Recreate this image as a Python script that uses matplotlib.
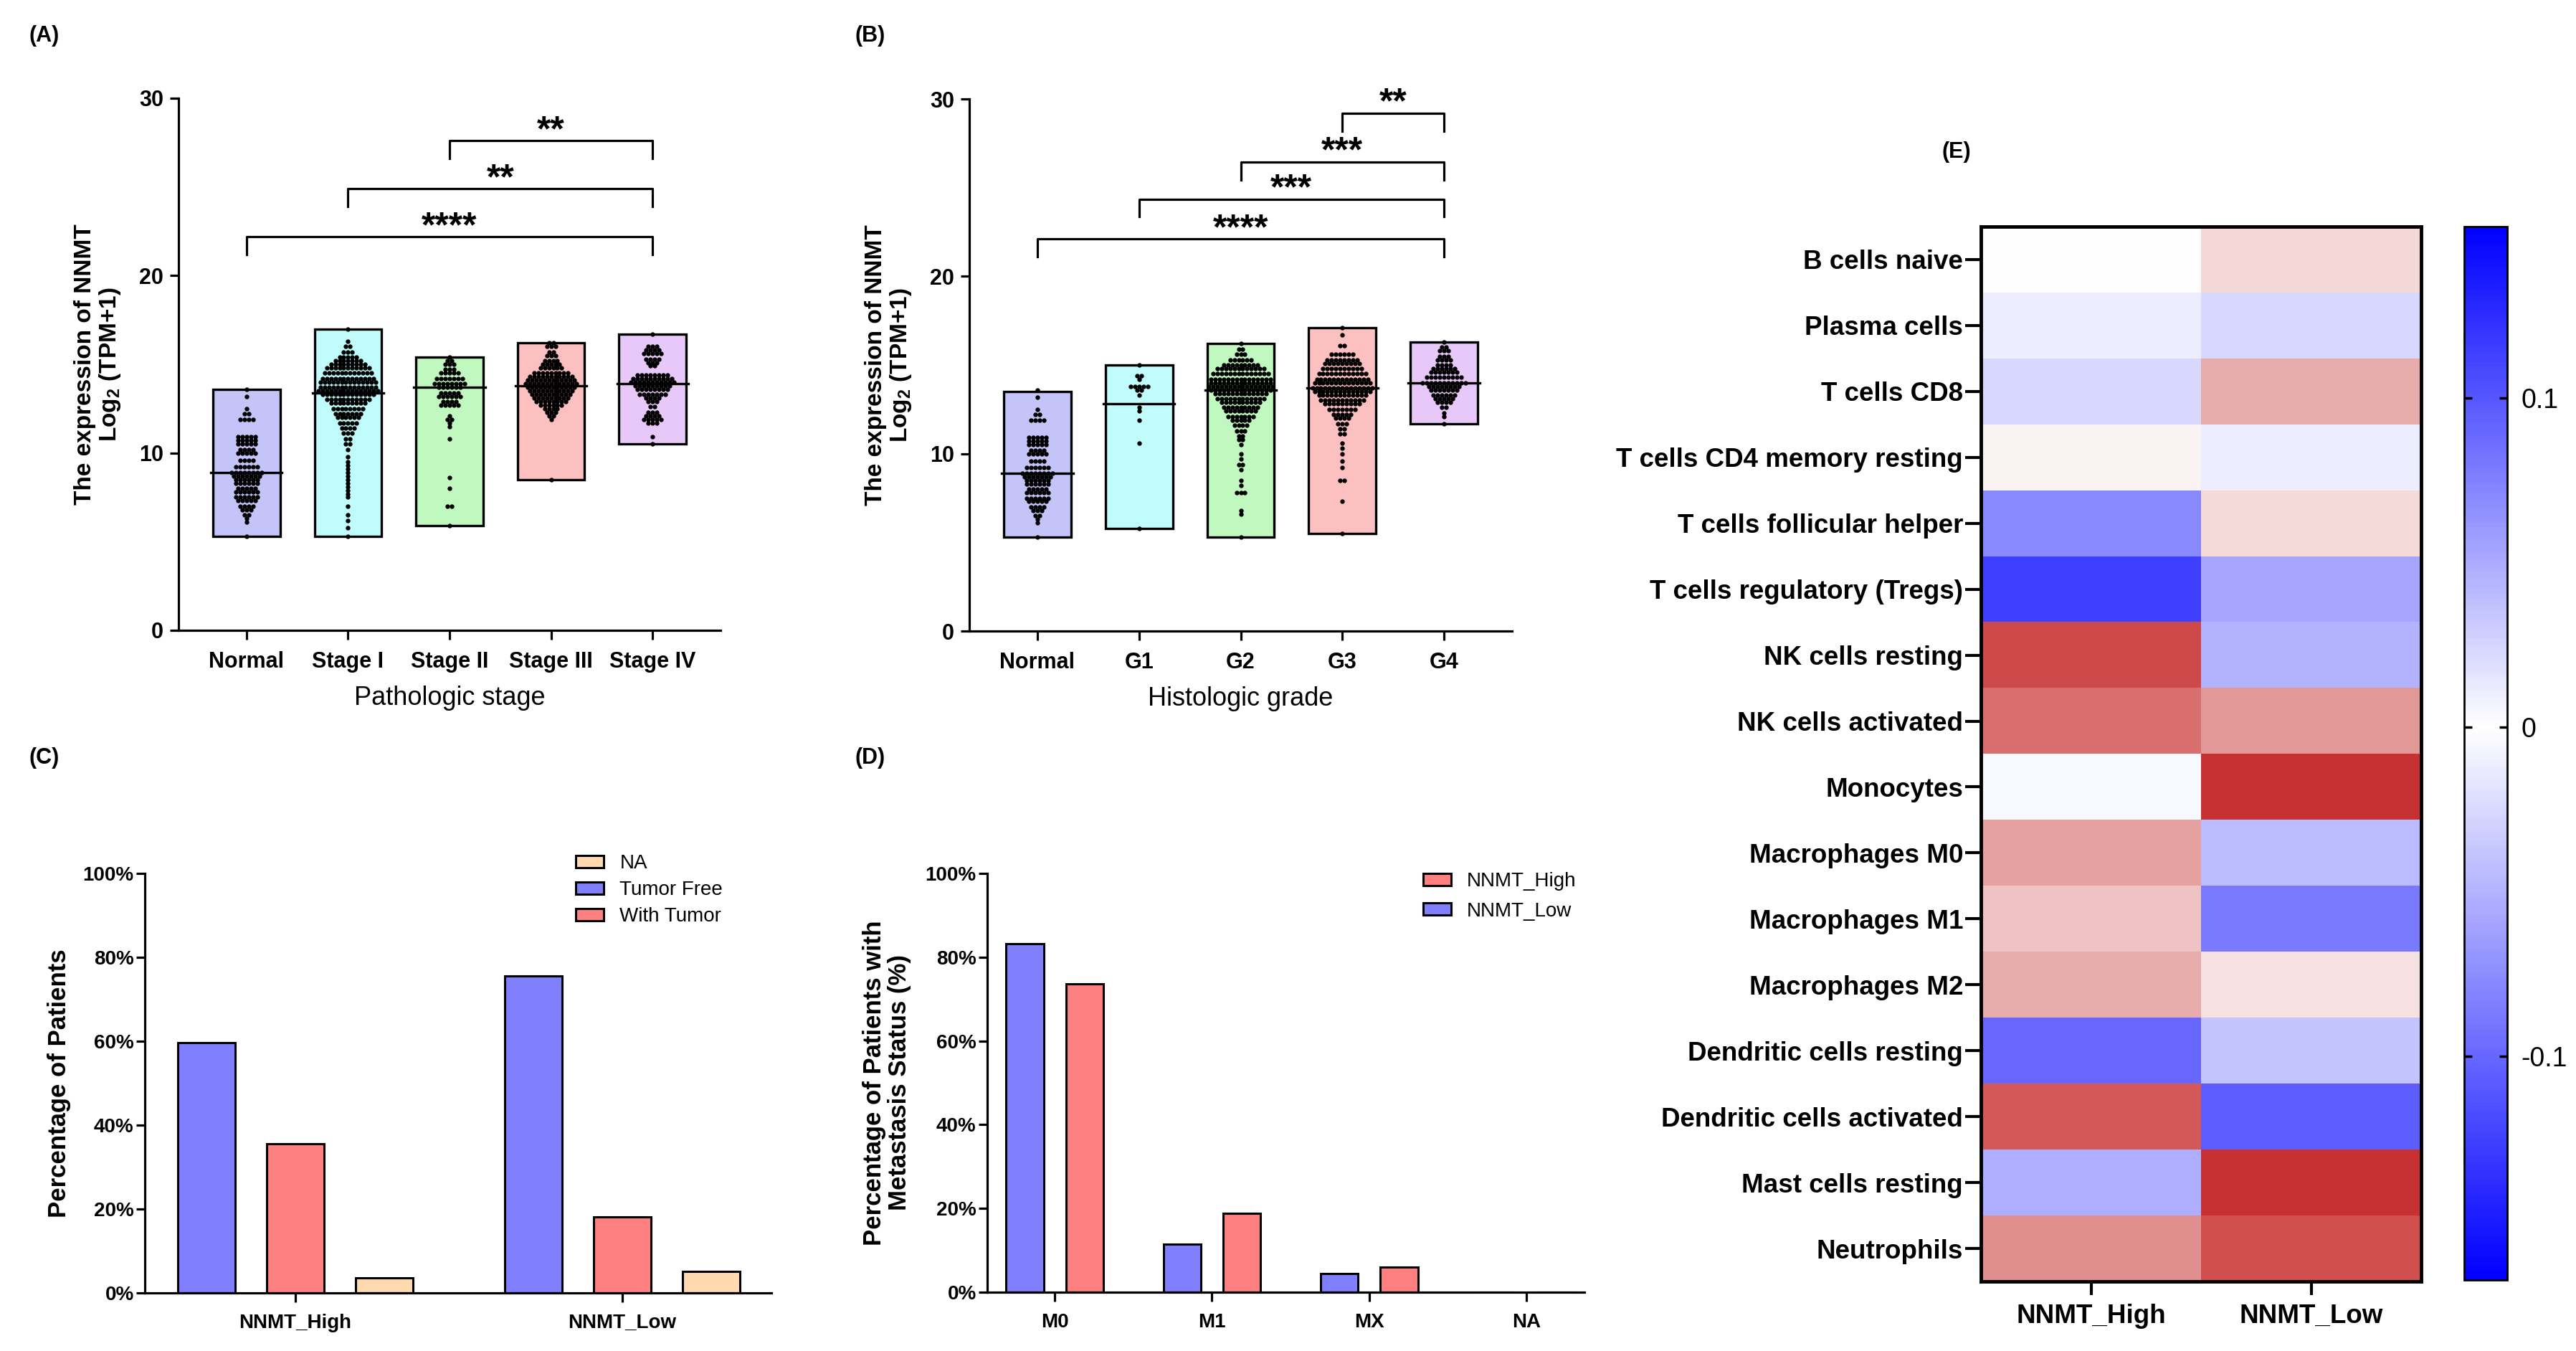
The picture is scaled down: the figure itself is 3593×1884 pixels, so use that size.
import matplotlib
matplotlib.use('Agg')
import matplotlib.pyplot as plt
from matplotlib.colors import LinearSegmentedColormap, Normalize
from matplotlib.patches import Patch
import matplotlib.cm as cm
import numpy as np

plt.rcParams['font.family'] = ['Liberation Sans', 'DejaVu Sans']
plt.rcParams['mathtext.fontset'] = 'custom'
plt.rcParams['mathtext.rm'] = 'Liberation Sans:bold'
plt.rcParams['mathtext.bf'] = 'Liberation Sans:bold'

# ---- panel A: pathologic stage ----
stage_labels = ['Normal', 'Stage I', 'Stage II', 'Stage III', 'Stage IV']
stage_min = [5.3, 5.3, 5.9, 8.5, 10.5]
stage_max = [13.6, 17.0, 15.4, 16.2, 16.7]
stage_median = [8.9, 13.4, 13.7, 13.8, 13.9]
stage_colors = ['#C4C4F8', '#C0FCFC', '#C0F8C0', '#FCC0C0', '#E8C8F8']

normal_levels = [13.6, 13.2, 12.5, 12.2, 11.9, 10.9, 10.7, 10.5, 10.2, 10.0, 9.6, 9.2, 8.9, 8.7,
                 8.5, 8.3, 8.0, 7.8, 7.5, 7.3, 7.0, 6.8, 6.5, 6.3, 6.1, 5.3]
normal_counts = [1, 1, 1, 2, 4, 5, 5, 5, 4, 5, 4, 6, 8, 7, 6, 6, 5, 6, 6, 5, 4, 3, 2, 1, 1, 1]

stage1_levels = [17.0, 16.3, 16.0, 15.7, 15.4, 15.2, 15.0, 14.8, 14.5, 14.2, 14.0, 13.7, 13.5, 13.3,
                 13.0, 12.8, 12.5, 12.2, 12.0, 11.7, 11.4, 11.1, 10.8, 10.5, 10.2, 9.8, 9.5, 9.3,
                 9.1, 8.9, 8.7, 8.5, 8.3, 8.1, 7.9, 7.7, 7.5, 7.0, 6.5, 6.2, 5.8, 5.3]
stage1_counts = [1, 1, 2, 3, 5, 7, 9, 11, 12, 13, 14, 14, 15, 13, 11, 9, 8, 7, 6, 5, 4, 3, 2, 2,
                 1, 1, 1, 1, 1, 1, 1, 1, 1, 1, 1, 1, 1, 1, 1, 1, 1, 1]

stage2_levels = [15.4, 15.2, 15.0, 14.7, 14.5, 14.2, 13.9, 13.7, 13.4, 13.2, 12.9, 12.7, 12.1,
                 11.9, 11.7, 11.5, 10.8, 8.6, 8.0, 7.0, 5.9]
stage2_counts = [1, 2, 3, 3, 5, 7, 8, 6, 5, 6, 4, 5, 1, 2, 1, 1, 1, 1, 1, 2, 1]

stage3_levels = [16.2, 16.0, 15.7, 15.5, 15.2, 15.0, 14.8, 14.5, 14.3, 14.1, 13.9, 13.7, 13.5,
                 13.3, 13.1, 12.9, 12.7, 12.5, 12.3, 12.1, 11.9, 8.5]
stage3_counts = [2, 3, 2, 3, 4, 5, 6, 9, 11, 12, 13, 12, 11, 10, 9, 8, 6, 4, 3, 2, 1, 1]

stage4_levels = [16.7, 16.0, 15.8, 15.6, 15.3, 15.1, 14.9, 14.4, 14.2, 14.0, 13.8, 13.6, 13.3,
                 13.1, 12.9, 12.6, 12.3, 12.1, 11.9, 11.7, 10.9, 10.5]
stage4_counts = [1, 3, 4, 5, 4, 3, 2, 8, 10, 11, 9, 8, 7, 4, 3, 2, 3, 4, 5, 3, 1, 1]

stage_dots = [(normal_levels, normal_counts), (stage1_levels, stage1_counts),
              (stage2_levels, stage2_counts), (stage3_levels, stage3_counts),
              (stage4_levels, stage4_counts)]
# (from, to, bar height, label)
stage_sig = [(0, 4, 22.2, '****'), (1, 4, 24.9, '**'), (2, 4, 27.6, '**')]

# ---- panel B: histologic grade ----
grade_labels = ['Normal', 'G1', 'G2', 'G3', 'G4']
grade_min = [5.3, 5.8, 5.3, 5.5, 11.7]
grade_max = [13.5, 15.0, 16.2, 17.1, 16.3]
grade_median = [8.9, 12.8, 13.6, 13.7, 14.0]
grade_colors = ['#C4C4F8', '#C0FCFC', '#C0F8C0', '#FCC0C0', '#E8C8F8']

g1_levels = [15.0, 14.4, 14.2, 13.8, 13.6, 13.3, 12.6, 12.4, 11.9, 10.6, 5.8]
g1_counts = [1, 2, 1, 5, 2, 1, 1, 1, 1, 1, 1]

g2_levels = [16.2, 15.9, 15.6, 15.3, 15.0, 14.8, 14.5, 14.2, 14.0, 13.8, 13.6, 13.4, 13.1, 12.9,
             12.6, 12.4, 12.1, 11.9, 11.6, 11.3, 11.0, 10.8, 10.5, 10.0, 9.7, 9.4, 9.1, 8.5,
             8.2, 7.8, 6.8, 6.6, 5.3]
g2_counts = [1, 2, 3, 6, 9, 12, 14, 15, 15, 16, 15, 13, 12, 10, 9, 8, 7, 5, 4, 3, 2, 2, 1, 1, 1,
             2, 1, 1, 1, 3, 1, 1, 1]

g3_levels = [17.1, 16.7, 16.1, 15.6, 15.3, 15.1, 14.8, 14.5, 14.2, 14.0, 13.7, 13.5, 13.3, 13.0,
             12.8, 12.5, 12.2, 12.0, 11.7, 11.4, 11.1, 10.6, 10.3, 10.0, 9.6, 9.2, 8.5, 7.3, 5.5]
g3_counts = [1, 1, 2, 6, 8, 9, 10, 12, 13, 14, 15, 14, 12, 11, 9, 7, 5, 4, 3, 2, 2, 1, 1, 1, 1,
             1, 2, 1, 1]

g4_levels = [16.3, 16.0, 15.8, 15.5, 15.3, 15.0, 14.8, 14.6, 14.3, 14.0, 13.8, 13.6, 13.3, 13.1,
             12.9, 12.6, 12.3, 12.1, 11.7]
g4_counts = [1, 2, 3, 3, 4, 4, 6, 7, 9, 11, 8, 7, 6, 5, 4, 2, 1, 1, 1]

grade_dots = [(normal_levels, normal_counts), (g1_levels, g1_counts), (g2_levels, g2_counts),
              (g3_levels, g3_counts), (g4_levels, g4_counts)]
grade_sig = [(0, 4, 22.1, '****'), (1, 4, 24.35, '***'), (2, 4, 26.45, '***'), (3, 4, 29.2, '**')]

# ---- panel C: tumor status ----
status_groups = ['NNMT_High', 'NNMT_Low']
tumor_free = [59.6, 75.5]
with_tumor = [35.6, 18.1]
status_na = [3.6, 5.2]

# ---- panel D: metastasis ----
meta_labels = ['M0', 'M1', 'MX', 'NA']
meta_low = [83.3, 11.4, 4.4, 0.0]
meta_high = [73.7, 18.9, 6.0, 0.0]

# ---- panel E: immune cell heatmap ----
cell_types = ['B cells naive', 'Plasma cells', 'T cells CD8', 'T cells CD4 memory resting',
              'T cells follicular helper', 'T cells regulatory (Tregs)', 'NK cells resting',
              'NK cells activated', 'Monocytes', 'Macrophages M0', 'Macrophages M1',
              'Macrophages M2', 'Dendritic cells resting', 'Dendritic cells activated',
              'Mast cells resting', 'Neutrophils']
heat_cols = ['NNMT_High', 'NNMT_Low']
corr_high = [0.0, 0.01, 0.023, -0.01, 0.07, 0.114, -0.141, -0.112, 0.004, -0.074, -0.046,
             -0.065, 0.09, -0.129, 0.048, -0.087]
corr_low = [-0.03, 0.023, -0.065, 0.01, -0.029, 0.053, 0.045, -0.08, -0.16, 0.04, 0.079,
            -0.024, 0.035, 0.096, -0.16, -0.138]

BLUE = '#8080FF'
RED = '#FF8080'
PEACH = '#FFDAB0'

W, H = 3593, 1884
fig = plt.figure(figsize=(W / 100, H / 100), dpi=100)


def px_axes(l, r, t, b):
    return fig.add_axes([l / W, 1 - b / H, (r - l) / W, (b - t) / H])


def style_axes(ax):
    for s in ['top', 'right']:
        ax.spines[s].set_visible(False)
    for s in ['left', 'bottom']:
        ax.spines[s].set_linewidth(2.3)
    ax.tick_params(width=2.3, length=9, direction='out')


def expression_panel(ax, labels, lo, hi, med, colors, dots, sig, xlabel):
    x = np.arange(len(labels))
    ax.bar(x, np.array(hi) - np.array(lo), bottom=lo, width=0.66, color=colors,
           edgecolor='black', linewidth=2.4, zorder=2)
    for i, (levels, counts) in enumerate(dots):
        xs, ys = [], []
        for y, n in zip(levels, counts):
            for k in range(n):
                xs.append(i + (k - (n - 1) / 2) * 0.042)
                ys.append(y)
        ax.scatter(xs, ys, s=21, color='black', linewidths=0, zorder=3)
        ax.plot([i - 0.35, i + 0.35], [med[i], med[i]], color='black', lw=2.4, zorder=4)
    for a, b, y, txt in sig:
        ax.plot([a, a, b, b], [y - 1.0, y, y, y - 1.0], color='black', lw=2.3, clip_on=False)
        ax.text((a + b) / 2, y + 0.0, txt, ha='center', va='baseline', fontsize=36,
                fontweight='bold', clip_on=False)
    ax.set_xlim(-0.67, 4.67)
    ax.set_ylim(0, 30)
    ax.set_yticks([0, 10, 20, 30])
    ax.set_xticks(x)
    ax.set_xticklabels(labels)
    style_axes(ax)
    ax.tick_params(axis='x', pad=12)
    ax.tick_params(axis='y', pad=6)
    for t in ax.get_xticklabels() + ax.get_yticklabels():
        t.set_fontsize(22)
        t.set_fontweight('bold')
    ax.set_ylabel('The expression of NNMT\nLog$_2$ (TPM+1)', fontsize=24, fontweight='bold',
                  va='center', linespacing=1.1)
    ax.yaxis.set_label_coords(-0.148, 0.5)
    ax.set_xlabel(xlabel, fontsize=26, va='center')
    ax.xaxis.set_label_coords(0.5, -0.128)


# A
axA = px_axes(249, 1005, 137, 879)
expression_panel(axA, stage_labels, stage_min, stage_max, stage_median, stage_colors,
                 stage_dots, stage_sig, 'Pathologic stage')

# B
axB = px_axes(1352, 2109, 138, 880)
expression_panel(axB, grade_labels, grade_min, grade_max, grade_median, grade_colors,
                 grade_dots, grade_sig, 'Histologic grade')


def pct_axes(ax):
    ax.set_ylim(0, 100)
    ax.set_yticks(range(0, 101, 20))
    ax.set_yticklabels([f'{v}%' for v in range(0, 101, 20)])
    style_axes(ax)
    ax.tick_params(axis='y', pad=2)
    ax.tick_params(axis='x', pad=12)
    for t in ax.get_xticklabels() + ax.get_yticklabels():
        t.set_fontsize(20)
        t.set_fontweight('bold')


# C
axC = px_axes(202, 1076, 1218, 1803)
xc = np.arange(len(status_groups))
axC.bar(xc - 0.272, tumor_free, width=0.175, color=BLUE, edgecolor='black', linewidth=2.2)
axC.bar(xc, with_tumor, width=0.175, color=RED, edgecolor='black', linewidth=2.2)
axC.bar(xc + 0.272, status_na, width=0.175, color=PEACH, edgecolor='black', linewidth=2.2)
axC.set_xlim(-0.46, 1.456)
axC.set_xticks(xc)
axC.set_xticklabels(status_groups)
pct_axes(axC)
axC.set_ylabel('Percentage of Patients', fontsize=25, fontweight='bold', va='center')
axC.yaxis.set_label_coords(-0.137, 0.5)
hC = [Patch(facecolor=PEACH, edgecolor='black', lw=2.2, label='NA'),
      Patch(facecolor=BLUE, edgecolor='black', lw=2.2, label='Tumor Free'),
      Patch(facecolor=RED, edgecolor='black', lw=2.2, label='With Tumor')]
axC.legend(handles=hC, loc='upper left', bbox_to_anchor=(0.688, 1.046), frameon=False,
           prop={'size': 20}, handlelength=1.4, handleheight=0.55,
           handletextpad=0.8, labelspacing=0.4, borderpad=0, borderaxespad=0)

# D
axD = px_axes(1377, 2210, 1218, 1802)
xd = np.arange(len(meta_labels))
axD.bar(xd - 0.19, meta_low, width=0.24, color=BLUE, edgecolor='black', linewidth=2.2)
axD.bar(xd + 0.19, meta_high, width=0.24, color=RED, edgecolor='black', linewidth=2.2)
axD.set_xlim(-0.43, 3.37)
axD.set_xticks(xd)
axD.set_xticklabels(meta_labels)
pct_axes(axD)
axD.set_ylabel('Percentage of Patients with\nMetastasis Status (%)', fontsize=25,
               fontweight='bold', va='center', linespacing=1.1)
axD.yaxis.set_label_coords(-0.168, 0.5)
hD = [Patch(facecolor=RED, edgecolor='black', lw=2.2, label='NNMT_High'),
      Patch(facecolor=BLUE, edgecolor='black', lw=2.2, label='NNMT_Low')]
axD.legend(handles=hD, loc='upper left', bbox_to_anchor=(0.73, 1.003), frameon=False,
           prop={'size': 20}, handlelength=1.4, handleheight=0.55,
           handletextpad=0.8, labelspacing=0.55, borderpad=0, borderaxespad=0)

# E
vmin, vmax = -0.168, 0.152
mid = -vmin / (vmax - vmin)
norm = Normalize(vmin=vmin, vmax=vmax)
heat_cmap = LinearSegmentedColormap.from_list('rwb', [(0, '#C62828'), (mid, '#FFFFFF'), (1, '#0000FF')])
bar_cmap = LinearSegmentedColormap.from_list('bwb', [(0, '#0000FF'), (mid, '#FFFFFF'), (1, '#0000FF')])

axE = px_axes(2763, 3377, 316, 1787)
grid = np.column_stack([corr_high, corr_low])
axE.imshow(grid, cmap=heat_cmap, norm=norm, aspect='auto', interpolation='nearest')
axE.set_xticks(range(len(heat_cols)))
axE.set_xticklabels(heat_cols)
axE.set_yticks(range(len(cell_types)))
axE.set_yticklabels(cell_types)
for s in axE.spines.values():
    s.set_linewidth(3.5)
axE.tick_params(axis='y', length=16, width=3, pad=2)
axE.tick_params(axis='x', length=14, width=3, pad=8)
for t in axE.get_xticklabels() + axE.get_yticklabels():
    t.set_fontsize(26.5)
    t.set_fontweight('bold')

cax = px_axes(3437, 3497, 316, 1785)
cb = fig.colorbar(cm.ScalarMappable(norm=norm, cmap=bar_cmap), cax=cax)
cb.set_ticks([-0.1, 0, 0.1])
cb.set_ticklabels(['-0.1', '0', '0.1'])
cb.outline.set_linewidth(2)
cax.tick_params(direction='in', length=8, width=2.5, left=True, right=True, pad=14)
for t in cax.get_yticklabels():
    t.set_fontsize(27)

# panel letters
for txt, x, y in [('(A)', 41, 50), ('(B)', 1192, 50), ('(C)', 41, 1057),
                  ('(D)', 1192, 1057), ('(E)', 2709, 212)]:
    fig.text(x / W, 1 - y / H, txt, fontsize=22, fontweight='bold', ha='left', va='center')

fig.savefig('out.png', dpi=100)
